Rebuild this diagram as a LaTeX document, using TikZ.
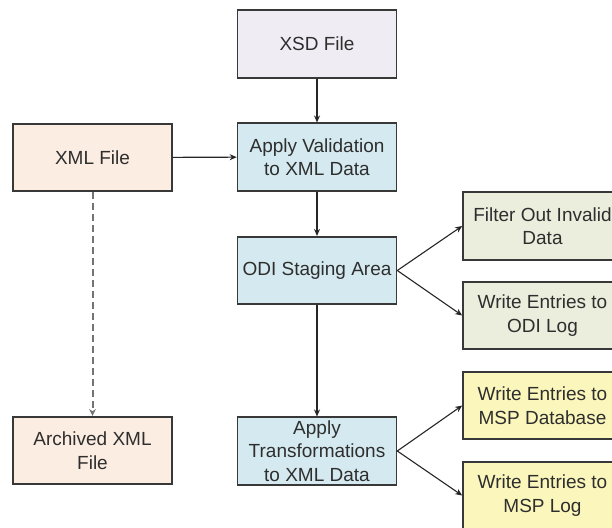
\documentclass[tikz,border=0pt]{standalone}
\usepackage{fontspec}
\setmainfont{Liberation Sans}
\usetikzlibrary{arrows.meta}
\definecolor{txt}{HTML}{2E2E2E}
\definecolor{bord}{HTML}{383838}
\definecolor{cxsd}{HTML}{EFEDF3}
\definecolor{cblue}{HTML}{D5EAF0}
\definecolor{corange}{HTML}{FCEDE2}
\definecolor{cgreen}{HTML}{EBEEDD}
\definecolor{cyellow}{HTML}{FBF7BC}
\tikzset{
  box/.style={draw=bord, line width=1.6pt, minimum width=159pt, minimum height=67.5pt,
    inner sep=0pt, align=center, text=txt, font=\fontsize{19}{23.5}\selectfont},
  conn/.style={draw=black!85, line width=1.1pt, -{Stealth[length=7pt,width=6pt]}},
  dconn/.style={conn, draw=black!55, line width=2pt, dash pattern=on 7pt off 4pt,
    -{Stealth[length=7pt,width=7pt,line width=0pt]}},
}
\begin{document}
\begin{tikzpicture}[x=1pt,y=1pt]
\useasboundingbox (0,0) rectangle (612,-527);
\fill[white] (0,0) rectangle (612,-527);
\clip (0,0) rectangle (612,-527);
\node[box, fill=cxsd]    (xsd)    at (317,-44)    {XSD File};
\node[box, fill=cblue]   (val)    at (317,-157)   {Apply Validation\\to XML Data};
\node[box, fill=corange] (xml)    at (92.5,-157.5){XML File};
\node[box, fill=cblue]   (odi)    at (317,-270.5) {ODI Staging Area};
\node[box, fill=cblue]   (trans)  at (317,-451)   {Apply\\Transformations\\to XML Data};
\node[box, fill=corange] (arch)   at (92.5,-450.5){Archived XML\\File};
\node[box, fill=cgreen]  (filt)   at (542.5,-226) {Filter Out Invalid\\Data};
\node[box, fill=cgreen]  (odilog) at (542.5,-315.5){Write Entries to\\ODI Log};
\node[box, fill=cyellow] (mspdb)  at (542.5,-405.5){Write Entries to\\MSP Database};
\node[box, fill=cyellow] (msplog) at (542.5,-495.5){Write Entries to\\MSP Log};
\draw[conn] (xsd) -- (val);
\draw[conn] (xml) -- (val);
\draw[conn] (val) -- (odi);
\draw[conn] (odi) -- (trans);
\draw[conn] (odi.east) -- (filt.west);
\draw[conn] (odi.east) -- (odilog.west);
\draw[conn] (trans.east) -- (mspdb.west);
\draw[conn] (trans.east) -- (msplog.west);
\draw[dconn] (xml) -- (arch);
\end{tikzpicture}
\end{document}
